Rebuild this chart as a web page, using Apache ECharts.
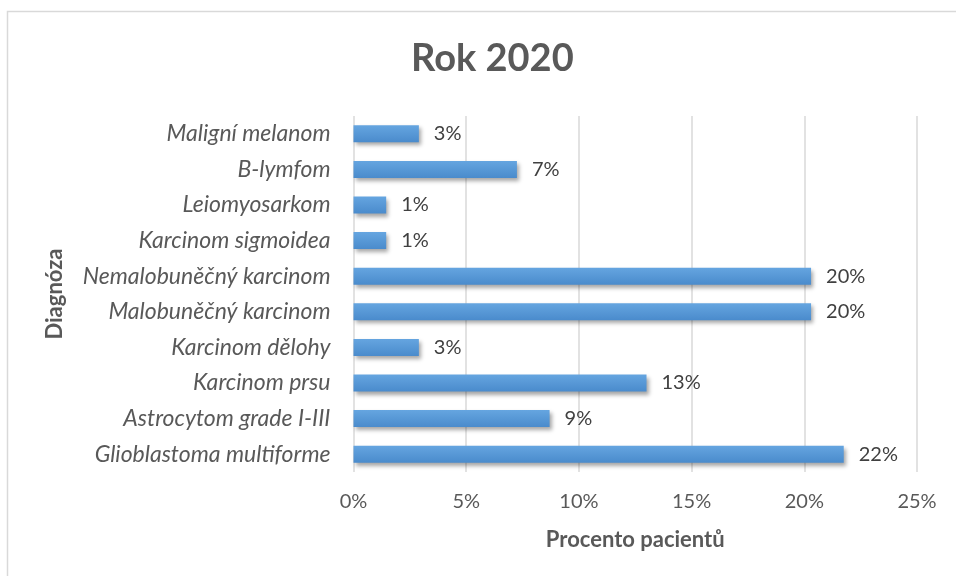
<!DOCTYPE html>
<html>
<head>
<meta charset="utf-8">
<script src="https://cdn.jsdelivr.net/npm/echarts@6/dist/echarts.min.js"></script>
<style>
  html, body { margin: 0; padding: 0; background: #fff; }
  #chart { width: 956px; height: 576px; }
</style>
</head>
<body>
<div id="chart"></div>
<script>
// top to bottom, as in the picture
const diagnozy = [
  'Maligní melanom',
  'B-lymfom',
  'Leiomyosarkom',
  'Karcinom sigmoidea',
  'Nemalobuněčný karcinom',
  'Malobuněčný karcinom',
  'Karcinom dělohy',
  'Karcinom prsu',
  'Astrocytom grade I-III',
  'Glioblastoma multiforme'
];
const procenta = [2.9, 7.25, 1.45, 1.45, 20.3, 20.3, 2.9, 13.0, 8.7, 21.75];
const xTicks = [0, 5, 10, 15, 20, 25];

const FONT = 'Lato';
const chart = echarts.init(document.getElementById('chart'));

const option = {
  backgroundColor: '#ffffff',
  animation: false,
  title: {
    text: 'Rok 2020',
    left: 406,
    top: 35,
    textStyle: { fontFamily: FONT, fontSize: 38, fontWeight: 'bold', color: '#595959' }
  },
  graphic: [{
    type: 'rect',
    shape: { x: 7.5, y: 11.5, width: 980, height: 600 },
    style: { fill: 'none', stroke: '#d9d9d9', lineWidth: 1.5 },
    silent: true
  }],
  grid: { left: 353.5, right: 39, top: 116, bottom: 104 },
  xAxis: {
    type: 'value',
    min: xTicks[0],
    max: xTicks[xTicks.length - 1],
    interval: 5,
    name: 'Procento pacientů',
    nameLocation: 'middle',
    nameGap: 57,
    nameTextStyle: { fontFamily: FONT, fontSize: 22, fontWeight: 'bold', color: '#595959' },
    axisLine: { show: false },
    axisTick: { show: false },
    axisLabel: {
      margin: 20,
      fontFamily: FONT, fontSize: 20, color: '#595959',
      formatter: v => v + '%'
    },
    splitLine: { show: true, lineStyle: { color: '#d9d9d9', width: 1.5 } }
  },
  yAxis: {
    type: 'category',
    inverse: true,
    data: diagnozy,
    name: 'Diagnóza',
    nameLocation: 'middle',
    nameGap: 288,
    nameRotate: 90,
    nameTextStyle: { fontFamily: FONT, fontSize: 22, fontWeight: 'bold', color: '#595959' },
    axisLine: { show: false },
    axisTick: { show: false },
    axisLabel: {
      margin: 23,
      fontFamily: FONT, fontSize: 23, fontStyle: 'italic', color: '#595959'
    }
  },
  series: [{
    type: 'bar',
    data: procenta,
    barWidth: 17,
    itemStyle: {
      color: new echarts.graphic.LinearGradient(0, 0, 0, 1, [
        { offset: 0, color: '#65a5e0' },
        { offset: 1, color: '#4a8bcc' }
      ]),
      shadowColor: 'rgba(0,0,0,0.35)',
      shadowBlur: 4,
      shadowOffsetX: 2,
      shadowOffsetY: 3
    },
    label: {
      show: true,
      position: 'right',
      distance: 15,
      fontFamily: FONT, fontSize: 20, color: '#404040',
      formatter: p => Math.round(p.value) + '%'
    }
  }]
};

chart.setOption(option);
</script>
</body>
</html>
